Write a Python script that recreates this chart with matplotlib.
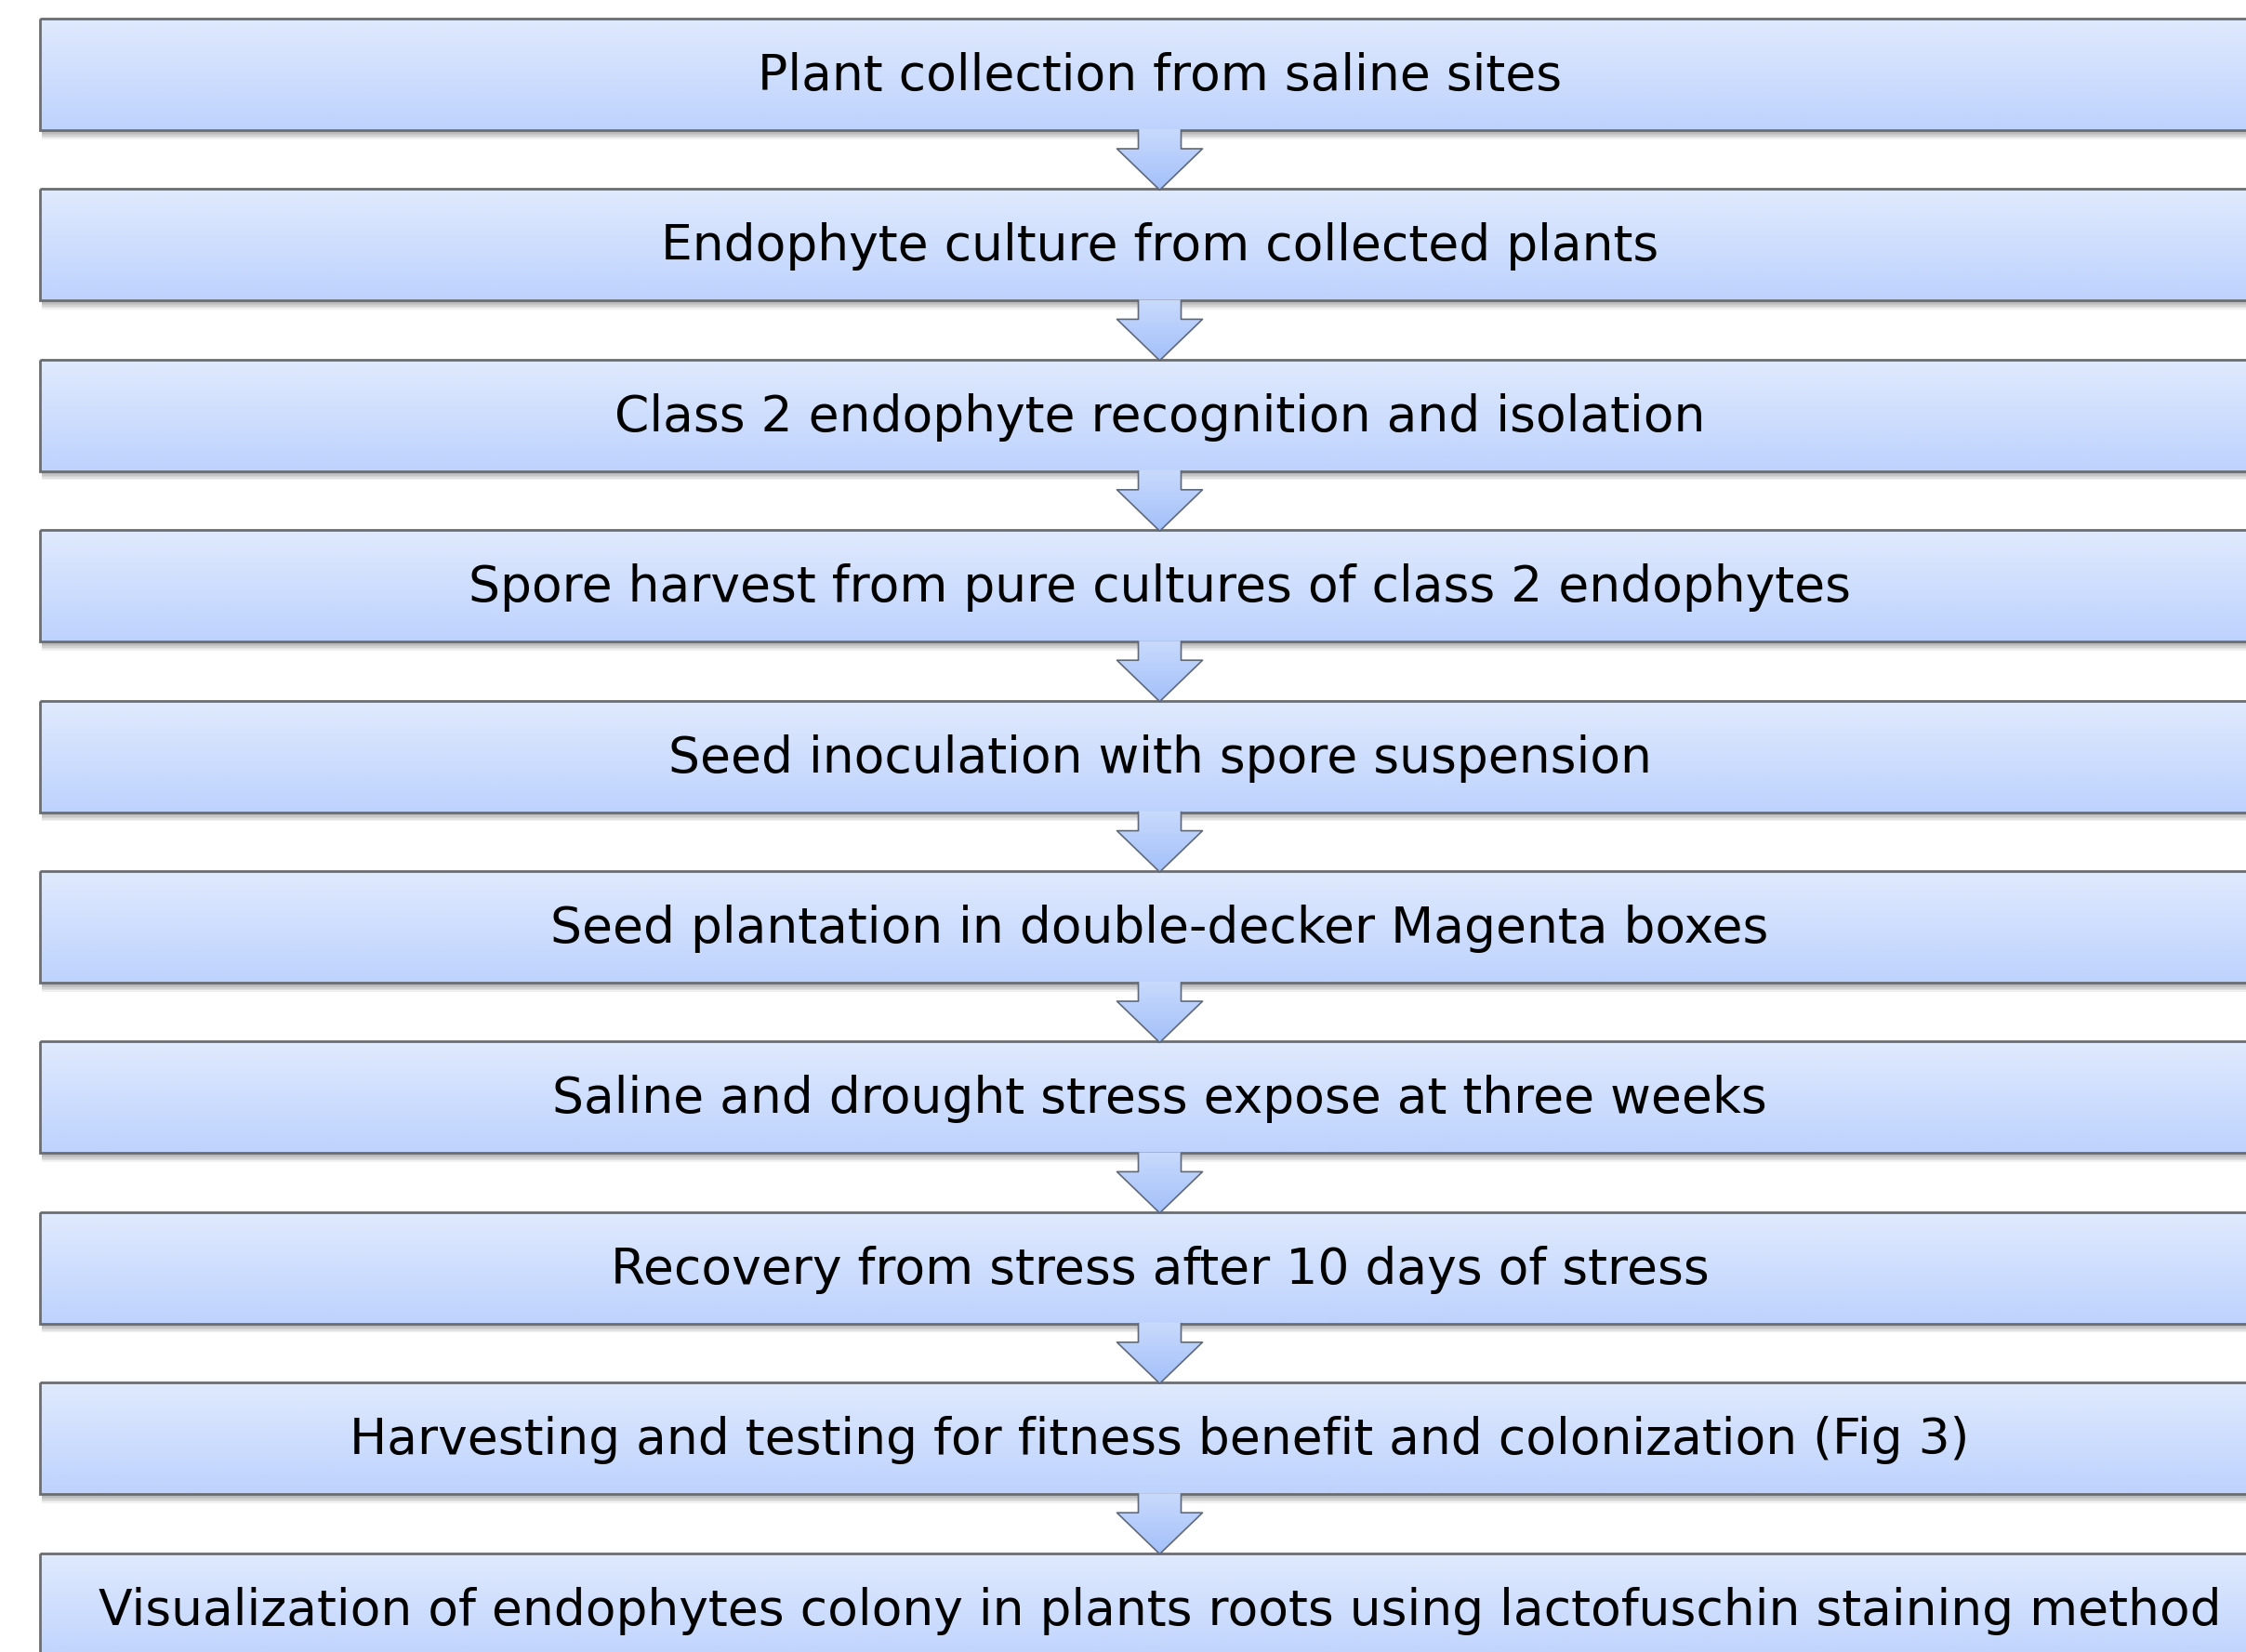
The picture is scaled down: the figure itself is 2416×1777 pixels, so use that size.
import matplotlib
matplotlib.use("Agg")
import matplotlib.pyplot as plt
import numpy as np
from matplotlib.colors import LinearSegmentedColormap
from matplotlib.patches import Polygon, Rectangle

W, H = 2416, 1777

steps = [
    "Plant collection from saline sites",
    "Endophyte culture from collected plants",
    "Class 2 endophyte recognition and isolation",
    "Spore harvest from pure cultures of class 2 endophytes",
    "Seed inoculation with spore suspension",
    "Seed plantation in double-decker Magenta boxes",
    "Saline and drought stress expose at three weeks",
    "Recovery from stress after 10 days of stress",
    "Harvesting and testing for fitness benefit and colonization (Fig 3)",
    "Visualization of endophytes colony in plants roots using lactofuschin staining method",
]

# layout (pixels)
box_left, box_right = 43, 2452
box_top0, box_h, step_y = 20, 120, 183.4
cx = (box_left + box_right) / 2
stem_half, head_half = 23, 46

box_cmap = LinearSegmentedColormap.from_list("box", ["#e0eafd", "#bdd2fd"])
arrow_cmap = LinearSegmentedColormap.from_list("arr", ["#c9dafc", "#a3c0fa"])
grad = np.linspace(0, 1, 256).reshape(-1, 1)

fig = plt.figure(figsize=(W / 100, H / 100), dpi=100)
ax = fig.add_axes([0, 0, 1, 1])
ax.set_xlim(0, W)
ax.set_ylim(H, 0)
ax.axis("off")


def gradient_fill(patch, cmap, x0, x1, y0, y1, z):
    ax.add_patch(patch)
    im = ax.imshow(grad, cmap=cmap, aspect="auto", extent=(x0, x1, y1, y0),
                   zorder=z, interpolation="bilinear")
    im.set_clip_path(patch)


for i, label in enumerate(steps):
    top = box_top0 + i * step_y
    bottom = top + box_h
    # soft shadow under the box
    for k in range(6):
        ax.add_patch(Rectangle((box_left + 2, bottom), box_right - box_left, 2 + k * 1.5,
                               facecolor="#000000", alpha=0.06, edgecolor="none", zorder=1))
    rect = Rectangle((box_left, top), box_right - box_left, box_h,
                     facecolor="none", edgecolor="none", zorder=2)
    gradient_fill(rect, box_cmap, box_left, box_right, top, bottom, 2)
    ax.add_patch(Rectangle((box_left, top), box_right - box_left, box_h,
                           facecolor="none", edgecolor="#6a6d72", linewidth=2.0, zorder=3))
    ax.text(cx, top + box_h / 2 + 2, label, ha="center", va="center",
            fontsize=38.5, family="DejaVu Sans", color="black", zorder=5)

    if i < len(steps) - 1:
        a_top = bottom - 1
        head_y = bottom + 20
        tip = box_top0 + (i + 1) * step_y + 1
        pts = [
            (cx - stem_half, a_top), (cx + stem_half, a_top), (cx + stem_half, head_y),
            (cx + head_half, head_y), (cx, tip), (cx - head_half, head_y),
            (cx - stem_half, head_y),
        ]
        arr = Polygon(pts, closed=True, facecolor="none", edgecolor="none", zorder=4)
        gradient_fill(arr, arrow_cmap, cx - head_half, cx + head_half, a_top, tip, 4)
        outline = [(cx - stem_half, bottom), (cx - stem_half, head_y), (cx - head_half, head_y),
                   (cx, tip), (cx + head_half, head_y), (cx + stem_half, head_y),
                   (cx + stem_half, bottom)]
        xs, ys = zip(*outline)
        ax.plot(xs, ys, color="#5f6878", linewidth=1.2, zorder=4.5)

fig.savefig("out.png", dpi=100, facecolor="white")
